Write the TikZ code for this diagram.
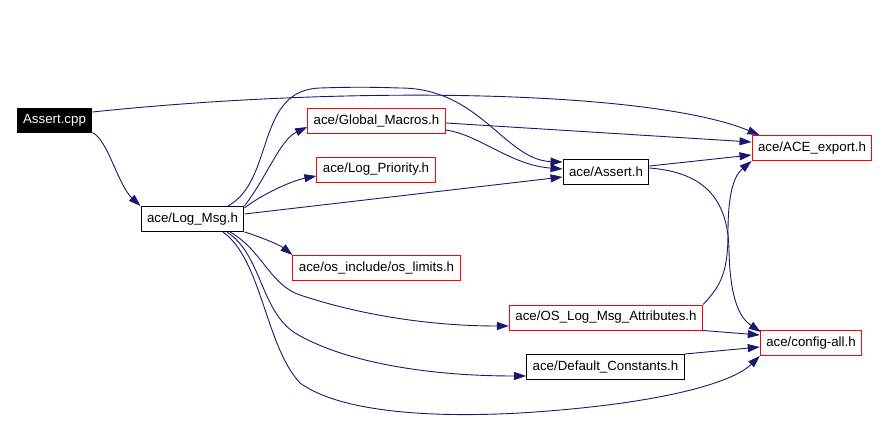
\documentclass[tikz,border=0pt]{standalone}
\usepackage{fontspec}
\setmainfont{Liberation Sans}
\usetikzlibrary{arrows.meta}
\definecolor{edgeblue}{RGB}{25,25,112}

\begin{document}
\begin{tikzpicture}[x=1pt,y=-1pt,
		hdr/.style={draw=black,line width=1pt,minimum height=25pt,inner xsep=6pt,inner ysep=0pt,font=\fontsize{13.3}{16}\selectfont},
		redhdr/.style={hdr,draw=red},
		dep/.style={edgeblue,line width=0.9pt,-{Triangle[length=12pt,width=8pt]}}]
				\useasboundingbox[fill=white] (0,0) rectangle (888,439);
				\node[hdr,fill=black,text=white,minimum height=24pt] (assertcpp) at (54.5,120) {Assert.cpp};
				\node[hdr] (logmsg) at (192.5,219) {ace/Log\_Msg.h};
				\node[redhdr] (globalmacros) at (376.5,121) {ace/Global\_Macros.h};
				\node[redhdr] (logpriority) at (376,169.5) {ace/Log\_Priority.h};
				\node[hdr] (asserth) at (606,171.5) {ace/Assert.h};
				\node[redhdr] (aceexport) at (812,148) {ace/ACE\_export.h};
				\node[redhdr] (oslimits) at (376.5,268) {ace/os\_include/os\_limits.h};
				\node[redhdr] (oslogmsg) at (606,317.5) {ace/OS\_Log\_Msg\_Attributes.h};
				\node[redhdr] (configall) at (811,343) {ace/config-all.h};
				\node[hdr] (defconst) at (605.5,367) {ace/Default\_Constants.h};
				\draw[dep] ([yshift=8pt]assertcpp.east) .. controls (350,85) and (650,90) .. ([xshift=8pt]aceexport.north west);
				\draw[dep] (assertcpp.south east) .. controls (108,140) and (118,185) .. (logmsg.north west);
				\draw[dep] (logmsg.north east) .. controls (268,175) and (280,140) .. ([yshift=-6pt]globalmacros.west);
				\draw[dep] ([yshift=-2pt]logmsg.north east) .. controls (265,192) and (295,180) .. ([yshift=-6.5pt]logpriority.west);
				\draw[dep] ([yshift=5pt]logmsg.east) -- ([yshift=-5.5pt]asserth.west);
				\draw[dep] ([xshift=35.5pt]logmsg.north) .. controls (275,180) and (255,90) .. (320,88) .. controls (350,87) and (370,87) .. (400,88) .. controls (480,88) and (505,160) .. ([yshift=9.5pt]asserth.west);
				\draw[dep] ([yshift=-2pt]globalmacros.east) -- ([yshift=6pt]aceexport.west);
				\draw[dep] ([yshift=-9pt]globalmacros.east) .. controls (480,135) and (510,165) .. ([yshift=2.5pt]asserth.west);
				\draw[dep] ([yshift=5.5pt]asserth.east) -- ([yshift=-7pt]aceexport.west);
				\draw[dep] ([yshift=3.5pt]asserth.east) .. controls (700,172) and (728,195) .. (729,250) .. controls (730,300) and (740,318) .. ([xshift=1pt,yshift=-2pt]configall.north west);
				\draw[dep] (oslogmsg.north east) .. controls (722,285) and (728,270) .. (728,232) .. controls (728,190) and (735,175) .. (aceexport.south west);
				\draw[dep] (oslogmsg.south east) -- ([yshift=8pt]configall.west);
				\draw[dep] (defconst.north east) -- ([yshift=-4pt]configall.west);
				\draw[dep] ([xshift=30.5pt]logmsg.south) .. controls (262,260) and (265,345) .. (300,383) .. controls (340,412) and (430,418) .. (520,413) .. controls (650,405) and (730,385) .. (configall.south west);
				\draw[dep] ([xshift=34.5pt]logmsg.south) .. controls (262,255) and (260,310) .. (295,333) .. controls (340,360) and (420,376) .. ([yshift=-9pt]defconst.west);
				\draw[dep] ([xshift=37.5pt]logmsg.south) .. controls (262,250) and (270,285) .. (300,295) .. controls (360,315) and (430,326) .. ([yshift=-8.5pt]oslogmsg.west);
				\draw[dep] (logmsg.south east) .. controls (258,236) and (280,245) .. (oslimits.north west);
			\end{tikzpicture}
\end{document}
